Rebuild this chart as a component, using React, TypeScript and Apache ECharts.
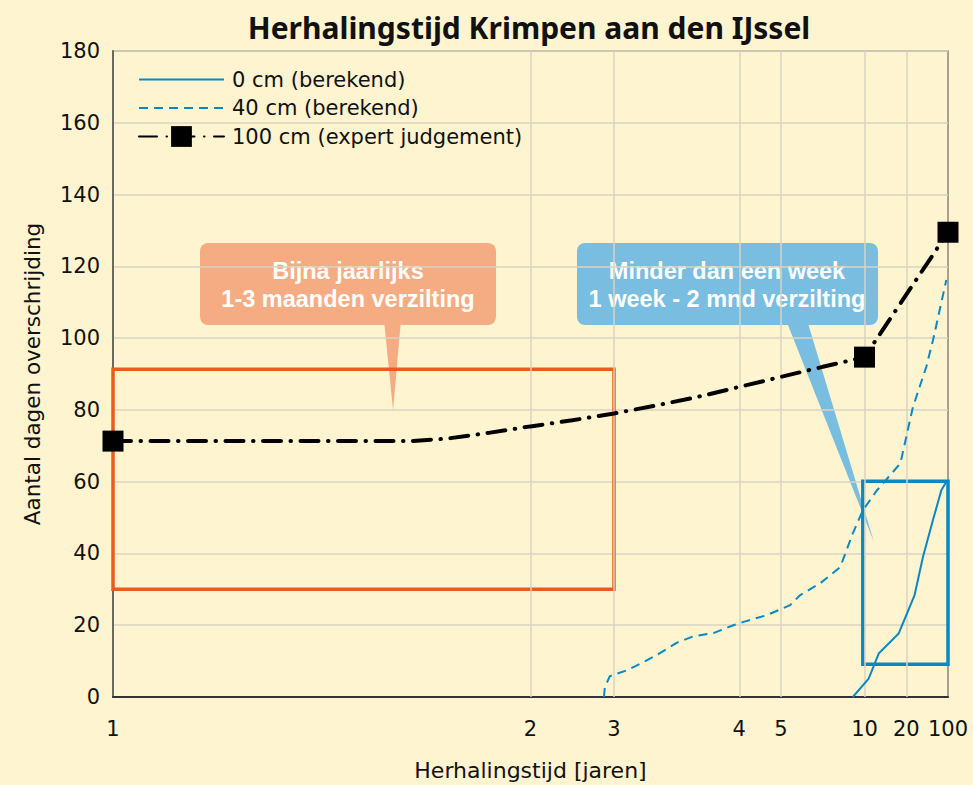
import React, { useEffect, useRef } from "react";
import * as echarts from "echarts";

// x values are plotting positions on the return-period axis (0 = 1 jaar, 1 = 100 jaar)
const tickPositions = [0, 0.5, 0.6, 0.75, 0.8, 0.9, 0.95, 1.0];
const tickLabels = ["1", "2", "3", "4", "5", "10", "20", "100"];
const gridPositions = [0.5, 0.6, 0.75, 0.8, 0.9, 0.95];

const series0cm: number[][] = [
  [0.886, 0], [0.905, 5.1], [0.917, 12.1], [0.941, 17.7], [0.96, 28.4],
  [0.97, 39.0], [0.982, 49.3], [0.992, 57.6], [0.998, 60.0],
];

const series40cm: number[][] = [
  [0.588, 0], [0.589, 2.7], [0.595, 5.8], [0.615, 7.4], [0.635, 9.7],
  [0.655, 12.2], [0.675, 15.1], [0.695, 16.9], [0.719, 17.8], [0.743, 20.0],
  [0.759, 21.2], [0.783, 22.8], [0.811, 25.6], [0.823, 28.4], [0.847, 31.7],
  [0.871, 36.2], [0.886, 45.6], [0.898, 52.0], [0.915, 57.6], [0.943, 65.1],
  [0.951, 73.5], [0.958, 80.8], [0.974, 92.0], [0.982, 99.4], [0.99, 107.8],
  [0.998, 116.2],
];

const series100cm: number[][] = [
  [0, 71.3], [0.356, 71.3], [0.4, 72.0], [0.45, 73.6], [0.5, 75.4],
  [0.55, 77.1], [0.6, 79.0], [0.65, 81.2], [0.7, 83.6], [0.75, 86.4],
  [0.8, 89.2], [0.85, 92.0], [0.9, 94.7], [1.0, 129.5],
];
const markerPositions100cm = [0, 0.9, 1.0];

const orangeBox = [[0, 30.0], [0.6, 91.3]];
const blueBox = [[0.898, 9.1], [1.0, 60.1]];

const calloutOrangeLines = ["Bijna jaarlijks", "1-3 maanden verzilting"];
const calloutBlueLines = ["Minder dan een week", "1 week - 2 mnd verzilting"];

const FONT = "'DejaVu Sans', 'Noto Sans', sans-serif";
const BOLD_FONT = "'Noto Sans', 'Open Sans', sans-serif";
const CALLOUT_FONT = "'Liberation Sans', Arial, sans-serif";

export default function App() {
  const ref = useRef<HTMLDivElement>(null);
  useEffect(() => {
    if (!ref.current) return;
    const chart = echarts.init(ref.current, null, { renderer: "svg" });
    const labelFor = (v: number) => {
      const i = tickPositions.findIndex((p) => Math.abs(p - v) < 1e-6);
      return i >= 0 ? tickLabels[i] : "";
    };
    const blue = "#0a88c4";
    const calloutText = (x: number, lines: string[]) =>
      lines.map((t, i) => ({
        type: "text",
        x,
        y: 271 + i * 27.5,
        style: {
          text: t,
          fill: "#fff",
          font: `bold 23.5px ${CALLOUT_FONT}`,
          align: "center",
          verticalAlign: "middle",
        },
      }));
    chart.setOption({
      animation: false,
      backgroundColor: "#fef4d0",
      textStyle: { fontFamily: FONT },
      title: {
        text: "Herhalingstijd Krimpen aan den IJssel",
        left: 524,
        textAlign: "center",
        top: 7,
        textStyle: { fontSize: 30, fontWeight: "bold", color: "#111", fontFamily: BOLD_FONT },
      },
      legend: {
        orient: "vertical",
        left: 133,
        top: 64,
        itemWidth: 85,
        itemHeight: 26,
        itemGap: 7.5,
        data: [
          { name: "0 cm (berekend)", itemStyle: { opacity: 0 } },
          { name: "40 cm (berekend)", itemStyle: { opacity: 0 } },
          { name: "100 cm (expert judgement)" },
        ],
        textStyle: { fontSize: 21, color: "#111", fontFamily: FONT, padding: [0, 0, 0, 3] },
      },
      grid: {
        left: 113,
        right: 25,
        top: 51,
        bottom: 88,
        outerBoundsMode: "none",
        show: true,
        borderColor: "#8a857a",
        borderWidth: 1.5,
        backgroundColor: "transparent",
      },
      xAxis: {
        type: "value",
        min: 0,
        max: 1,
        interval: 0.05,
        name: "Herhalingstijd [jaren]",
        nameLocation: "middle",
        nameGap: 62,
        nameTextStyle: { fontSize: 22, color: "#111" },
        axisLine: { show: true, lineStyle: { color: "#333", width: 2 } },
        axisTick: { show: false },
        splitLine: { show: false },
        axisLabel: {
          formatter: labelFor,
          fontSize: 21,
          color: "#111",
          margin: 21,
          showMinLabel: true,
          showMaxLabel: true,
        },
      },
      yAxis: {
        type: "value",
        min: 0,
        max: 180,
        interval: 20,
        name: "Aantal dagen overschrijding",
        nameLocation: "middle",
        nameRotate: 90,
        nameGap: 70,
        nameTextStyle: { fontSize: 21.5, color: "#111" },
        axisLine: { show: true, lineStyle: { color: "#6b6860", width: 2 } },
        axisTick: { show: false },
        splitLine: { show: true, lineStyle: { color: "#d9d3c2", width: 1.5 } },
        axisLabel: { fontSize: 21, color: "#111", margin: 13 },
      },
      graphic: [
        {
          type: "group",
          z: 3,
          children: [
            {
              type: "polygon",
              shape: { points: [[384, 320], [401, 320], [393, 410]] },
              style: { fill: "#f6ac82" },
            },
            {
              type: "rect",
              shape: { x: 200, y: 243, width: 296, height: 82, r: 8 },
              style: { fill: "#f6ac82" },
            },
            ...calloutText(348, calloutOrangeLines),
            {
              type: "polygon",
              shape: { points: [[786, 320], [807, 320], [874, 542]] },
              style: { fill: "#79bde0" },
            },
            {
              type: "rect",
              shape: { x: 577, y: 243, width: 301, height: 82, r: 8 },
              style: { fill: "#79bde0" },
            },
            ...calloutText(727, calloutBlueLines),
          ],
        },
      ],
      series: [
        {
          name: "grid",
          type: "line",
          z: 1,
          data: [],
          silent: true,
          markLine: {
            silent: true,
            symbol: ["none", "none"],
            label: { show: false },
            lineStyle: { color: "#d9d3c2", width: 1.5, type: "solid" },
            data: gridPositions.map((p) => ({ xAxis: p })),
          },
        },
        {
          name: "boxes",
          type: "line",
          z: 4,
          data: [],
          silent: true,
          markArea: {
            silent: true,
            data: [
              [
                { coord: orangeBox[0], itemStyle: { color: "transparent", borderColor: "#ec5a1e", borderWidth: 3.5 } },
                { coord: orangeBox[1] },
              ],
              [
                { coord: blueBox[0], itemStyle: { color: "transparent", borderColor: blue, borderWidth: 3.5 } },
                { coord: blueBox[1] },
              ],
            ],
          },
        },
        {
          name: "0 cm (berekend)",
          type: "line",
          z: 5,
          data: series0cm,
          symbol: "none",
          lineStyle: { color: blue, width: 2 },
          itemStyle: { color: blue },
        },
        {
          name: "40 cm (berekend)",
          type: "line",
          z: 5,
          data: series40cm,
          symbol: "none",
          lineStyle: { color: blue, width: 2, type: [9, 6] },
          itemStyle: { color: blue },
        },
        {
          name: "100 cm (expert judgement)",
          type: "line",
          z: 6,
          data: series100cm.map((d) => ({
            value: d,
            symbol: markerPositions100cm.includes(d[0]) ? "rect" : "none",
          })),
          symbol: "rect",
          symbolSize: 21,
          lineStyle: { color: "#000", width: 4, type: [18, 9.5, 0.5, 9.5], cap: "round" },
          itemStyle: { color: "#000" },
        },
      ],
    });
    return () => chart.dispose();
  }, []);
  return (
    <div
      ref={ref}
      style={{ position: "fixed", left: 0, top: 0, width: 973, height: 785 }}
    />
  );
}
